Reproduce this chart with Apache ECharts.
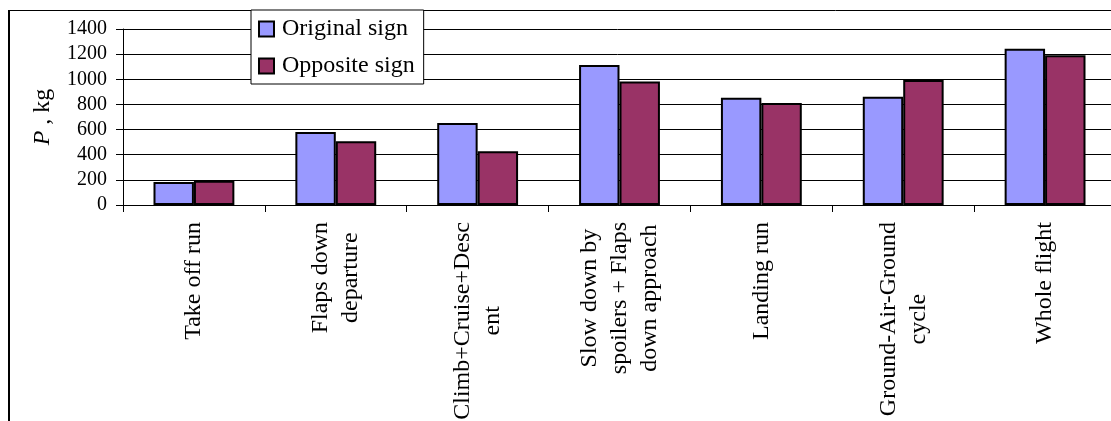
<!DOCTYPE html>
<html>
<head>
<meta charset="utf-8">
<script src="https://cdn.jsdelivr.net/npm/echarts@6/dist/echarts.min.js"></script>
<style>
  html, body { margin: 0; padding: 0; background: #fff; }
  #chart { width: 1111px; height: 421px; }
</style>
</head>
<body>
<div id="chart"></div>
<script>
// Flight phases (category axis) and load values in kg for each sign convention
const categories = [
  'Take off run',
  'Flaps down\ndeparture',
  'Climb+Cruise+Desc\nent',
  'Slow down by\nspoilers + Flaps\ndown approach',
  'Landing run',
  'Ground-Air-Ground\ncycle',
  'Whole flight'
];
const originalSign = [183, 580, 652, 1114, 853, 862, 1243];
const oppositeSign = [193, 507, 428, 982, 811, 994, 1192];
const yTicks = { min: 0, max: 1400, step: 200 };

const FONT = "'Liberation Serif', 'Times New Roman', serif";
const CAT_FONT_SIZE = 24;
const CAT_LABEL_GAP = 17;     // distance from axis line to the top end of a label
const CAT_ANCHOR = 200;       // anchor distance used for centred multi-line labels

// Measure the widest line of each category label so that the lines can be
// centred on each other while the block still starts right under the axis.
const measureCtx = document.createElement('canvas').getContext('2d');
measureCtx.font = CAT_FONT_SIZE + "px 'Liberation Serif', 'Times New Roman', serif";
function widestLine(text) {
  return Math.max.apply(null, text.split('\n').map(function (s) {
    return measureCtx.measureText(s).width;
  }));
}
const categoryItems = categories.map(function (name) {
  const padStart = 2 * (CAT_ANCHOR - CAT_LABEL_GAP) - widestLine(name);
  return {
    value: name,
    textStyle: {
      align: 'center',
      verticalAlign: 'middle',
      padding: [0, 0, 0, padStart],
      fontFamily: FONT,
      fontSize: CAT_FONT_SIZE,
      lineHeight: 30,
      color: '#000'
    }
  };
});

const chart = echarts.init(document.getElementById('chart'), null, { renderer: 'canvas' });

chart.setOption({
  backgroundColor: '#fff',
  animation: false,
  textStyle: { fontFamily: FONT, color: '#000' },
  graphic: [
    // outer chart-area frame (top and left edges)
    { type: 'line', shape: { x1: 9, y1: 10.5, x2: 1111, y2: 10.5 }, style: { stroke: '#000', lineWidth: 1 }, z: 10 },
    { type: 'line', shape: { x1: 9, y1: 10, x2: 9, y2: 421 }, style: { stroke: '#000', lineWidth: 2 }, z: 10 }
  ],
  legend: {
    orient: 'vertical',
    left: 251,
    top: 10,
    padding: [7, 9, 6, 7],
    itemGap: 13,
    itemWidth: 15,
    itemHeight: 15,
    icon: 'rect',
    backgroundColor: '#fff',
    borderColor: '#000',
    borderWidth: 1,
    itemStyle: { borderColor: '#000', borderWidth: 2 },
    textStyle: { fontFamily: FONT, fontSize: 24, lineHeight: 24, color: '#000', padding: [0, 0, 0, 3] },
    z: 20
  },
  grid: {
    left: 123, top: 29, right: -5, bottom: 216,
    containLabel: false,
    outerBoundsMode: 'none'
  },
  xAxis: {
    type: 'category',
    data: categoryItems,
    boundaryGap: true,
    axisLine: { lineStyle: { color: '#000', width: 1 } },
    axisTick: { show: true, length: 7, inside: false, lineStyle: { color: '#000' } },
    axisLabel: {
      interval: 0,
      rotate: 90,
      margin: CAT_ANCHOR,
      fontFamily: FONT,
      fontSize: CAT_FONT_SIZE,
      lineHeight: 30,
      color: '#000',
      hideOverlap: false
    },
    splitLine: { show: false }
  },
  yAxis: {
    type: 'value',
    min: yTicks.min,
    max: yTicks.max,
    interval: yTicks.step,
    name: '{i|P} , kg',
    nameLocation: 'middle',
    nameGap: 68,
    nameRotate: 90,
    nameTextStyle: {
      fontFamily: FONT, fontSize: 24, color: '#000',
      rich: { i: { fontStyle: 'italic', fontFamily: FONT, fontSize: 24, color: '#000' } }
    },
    axisLine: { show: true, lineStyle: { color: '#000', width: 1 } },
    axisTick: { show: true, length: 7, inside: false, lineStyle: { color: '#000' } },
    axisLabel: {
      margin: 16, fontFamily: FONT, fontSize: 20, color: '#000',
      formatter: function (v) { return String(v); }
    },
    splitLine: { show: true, lineStyle: { color: '#000', width: 1 } }
  },
  series: [
    {
      name: 'Original sign',
      type: 'bar',
      data: originalSign,
      barGap: '0%',
      barCategoryGap: '43%',
      itemStyle: { color: '#9999FF', borderColor: '#000', borderWidth: 2 }
    },
    {
      name: 'Opposite sign',
      type: 'bar',
      data: oppositeSign,
      barGap: '0%',
      barCategoryGap: '43%',
      itemStyle: { color: '#993366', borderColor: '#000', borderWidth: 2 }
    }
  ]
});
</script>
</body>
</html>
